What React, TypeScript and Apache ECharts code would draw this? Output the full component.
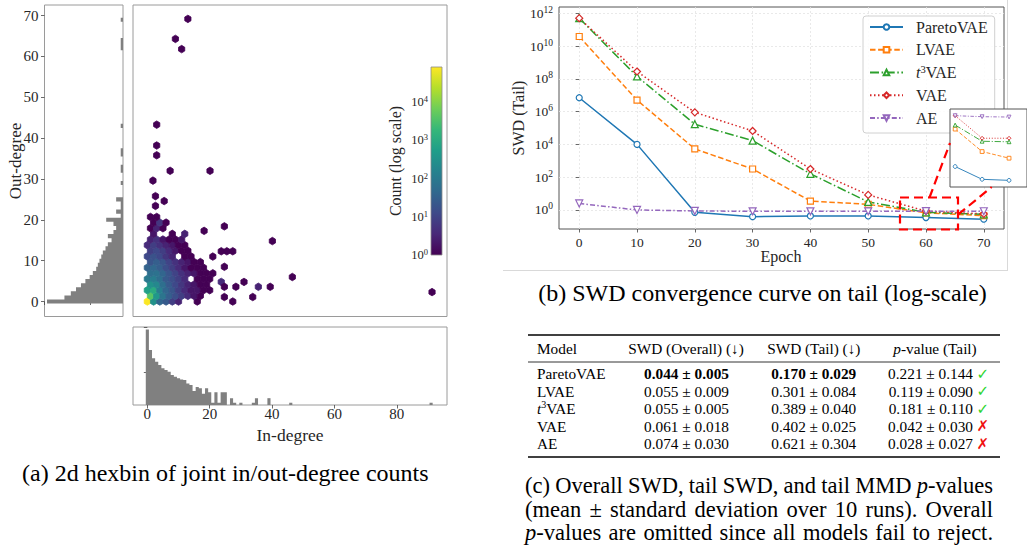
import React, { useEffect, useRef } from 'react';
import * as echarts from 'echarts';

const SERIF = '"Liberation Serif", "Times New Roman", serif';
const TXT = '#262626';

// ---------------- (a) joint in/out-degree hexbin ----------------
const HEX_DX = 2; // bin spacing along in-degree
const HEX_DY = 1.38; // row spacing along out-degree
// counts of each lattice row r (y = r*HEX_DY); even rows start at x=0, odd at x=1, step HEX_DX
const hexRows: number[][] = [
  [80000, 300, 40, 25, 8, 3, 0, 0, 1],
  [4000, 400, 80, 30, 15, 8, 4, 2, 1],
  [600, 1000, 120, 40, 20, 8, 4, 2, 2, 1, 1],
  [300, 200, 60, 25, 12, 6, 3, 2, 1, 1],
  [100, 120, 60, 25, 15, 8, 4, 0, 1, 1, 1],
  [60, 70, 40, 20, 10, 5, 3, 2, 1, 1, 1],
  [35, 45, 30, 15, 8, 4, 2, 1, 1, 1],
  [20, 30, 20, 10, 5, 3, 2, 1, 1],
  [12, 18, 12, 6, 3, 0, 1, 1],
  [8, 12, 8, 4, 2, 1, 1],
  [4, 8, 5, 3, 2, 1, 1],
  [3, 5, 2, 1, 1, 2],
  [0, 2, 0, 0, 1, 0, 3],
  [1, 3, 1],
  [0, 1, 6, 1],
  [1, 1],
];
// isolated bins: [in-degree, out-degree, count]
const hexSparse: number[][] = [
  [13, 69.2, 1], [9, 64.3, 1], [11, 61.8, 1], [3, 43.3, 1], [3, 38.2, 1], [3, 35.8, 1],
  [7.3, 32, 1], [20.1, 32, 1], [1.8, 29.6, 1], [2.6, 25.8, 1], [5.4, 24.6, 1], [2.6, 23.4, 1],
  [18.2, 17.3, 1], [24.7, 18.4, 1], [40.1, 14.8, 1], [23.7, 12.3, 1], [25.5, 12.3, 1], [27.4, 12.3, 1],
  [21, 11, 1], [24.7, 8.5, 1], [23.7, 4.8, 4], [24.7, 3.6, 1], [28.4, 3.6, 1], [31, 4.8, 1],
  [35.6, 3.6, 3], [39.4, 3.6, 1], [46.5, 6.0, 1], [24.7, 1.1, 1], [33.8, 1.1, 1], [27.4, 0, 1],
  [91.3, 2.3, 1],
];
const outDegree = [0, 1, 2, 3, 4, 5, 6, 7, 8, 9, 10, 11, 12, 13, 14, 15, 16, 17, 18, 19, 20, 21, 22, 23, 24, 25, 29, 32, 33, 36, 37, 43, 62, 63, 64, 69];
const outCount = [70000, 5000, 1900, 870, 410, 210, 110, 68, 41, 32, 25, 19, 15, 10, 7, 4, 7, 3, 2, 3, 9, 1, 2, 1, 1, 2, 1, 1, 1, 1, 1, 1, 1, 1, 1, 1];
const inDegree = [0, 1, 2, 3, 4, 5, 6, 7, 8, 9, 10, 11, 12, 13, 14, 15, 16, 17, 18, 19, 20, 21, 22, 23, 24, 25, 27, 28, 30, 34, 35, 39, 46, 91];
const inCount = [70000, 3100, 870, 510, 310, 190, 145, 110, 68, 52, 41, 35, 32, 19, 15, 6, 11, 9, 4, 9, 5, 1, 5, 1, 5, 5, 2, 1, 1, 1, 2, 2, 1, 1];
const degreeTicks = [0, 10, 20, 30, 40, 50, 60, 70];
const inDegreeTicks = [0, 20, 40, 60, 80];
const histTicks = [100, 100000];
const colorbarExps = [0, 1, 2, 3, 4];
const HMIN = 0.708;
const HMAX = 102000;
const CB_MAX_EXP = 4.92;

// ---------------- (b) SWD convergence ----------------
const epochs = [0, 10, 20, 30, 40, 50, 60, 70];
const paretoVAE = [7e6, 1e4, 0.72, 0.39, 0.43, 0.43, 0.345, 0.275];
const lvae = [3.8e10, 5e6, 5300, 316, 3.5, 2.2, 0.67, 0.45];
const t3vae = [5e11, 1.4e8, 1.7e5, 1.7e4, 160, 3.1, 0.72, 0.54];
const vae = [5e11, 2.8e8, 9e5, 6.6e4, 316, 8.3, 0.85, 0.57];
const ae = [2.5, 1.0, 0.87, 0.83, 0.83, 0.83, 0.85, 0.835];
const insetEpochs = [60, 70, 80];
const tail80 = [0.27, 0.4, 0.535, 0.57, 0.83];
const swdTicks = [1, 1e2, 1e4, 1e6, 1e8, 1e10, 1e12];

// ---------------- (c) table ----------------
const tableModels = ['ParetoVAE', 'LVAE', 't3VAE', 'VAE', 'AE'];
const swdOverallMean = [0.044, 0.055, 0.055, 0.061, 0.074];
const swdOverallStd = [0.005, 0.009, 0.005, 0.018, 0.03];
const swdTailMean = [0.17, 0.301, 0.389, 0.402, 0.621];
const swdTailStd = [0.029, 0.084, 0.04, 0.025, 0.304];
const pMean = [0.221, 0.119, 0.181, 0.042, 0.028];
const pStd = [0.144, 0.09, 0.11, 0.03, 0.027];

const viridis = ['#440154', '#482878', '#3e4989', '#31688e', '#26828e', '#1f9e89', '#35b779', '#6ece58', '#b5de2b', '#fde725'];

const models = [
  { name: 'ParetoVAE', data: paretoVAE, color: '#1f77b4', symbol: 'circle', size: 6, rotate: 0, dash: 'solid' as any },
  { name: 'LVAE', data: lvae, color: '#ff7f0e', symbol: 'rect', size: 6, rotate: 0, dash: [5.5, 2.6] },
  { name: 't3VAE', data: t3vae, color: '#2ca02c', symbol: 'triangle', size: 7, rotate: 0, dash: [9, 2.6, 1.5, 2.6] },
  { name: 'VAE', data: vae, color: '#d62728', symbol: 'diamond', size: 7, rotate: 0, dash: [1.5, 2.5] },
  { name: 'AE', data: ae, color: '#9467bd', symbol: 'triangle', size: 7, rotate: 180, dash: [5, 2.2, 1.5, 2.2] },
];

function fmt(v: number) {
  return v.toFixed(3);
}

function txt(text: string, x: number, y: number, size: number, o: any = {}) {
  return {
    type: 'text',
    x,
    y,
    z: o.z ?? 10,
    rotation: o.rot || 0,
    style: {
      text,
      fontSize: size,
      fontFamily: o.family || SERIF,
      fill: o.fill || TXT,
      fontWeight: o.weight || 'normal',
      fontStyle: o.fstyle || 'normal',
      textAlign: o.align || 'left',
      textVerticalAlign: 'middle',
      lineHeight: o.lh,
      rich: o.rich,
    },
  };
}

function justify(words: string[], x0: number, x1: number, y: number, size: number, rich: any) {
  const ctx = document.createElement('canvas').getContext('2d')!;
  ctx.font = `${size}px "Liberation Serif"`;
  const plain = words.map((w) => w.replace(/\{\w+\|([^}]*)\}/g, '$1'));
  const widths = plain.map((w) => ctx.measureText(w).width);
  const total = widths.reduce((a, b) => a + b, 0);
  const gap = words.length > 1 ? (x1 - x0 - total) / (words.length - 1) : 0;
  let x = x0;
  return words.map((w, i) => {
    const el = txt(w, x, y, size, { rich });
    x += widths[i] + gap;
    return el;
  });
}

// Draws one seamless step polygon for each run of consecutive histogram bins.
function histRun(bins: number[], counts: number[], i: number, api: any, horizontal: boolean) {
  if (i > 0 && bins[i] - bins[i - 1] === 1) return null;
  let j = i;
  while (j + 1 < bins.length && bins[j + 1] - bins[j] === 1) j++;
  const P = (b: number, v: number) => (horizontal ? api.coord([v, b]) : api.coord([b, v]));
  const pts: number[][] = [P(bins[i] - 0.5, HMIN)];
  for (let k = i; k <= j; k++) {
    pts.push(P(bins[k] - 0.5, counts[k]));
    pts.push(P(bins[k] + 0.5, counts[k]));
  }
  pts.push(P(bins[j] + 0.5, HMIN));
  return { type: 'polygon', shape: { points: pts }, style: { fill: '#808080' } };
}

function buildOption(): any {
  const hexData: number[][] = [];
  hexRows.forEach((row, r) => {
    row.forEach((c, k) => {
      if (c > 0) {
        const x = (r % 2) * (HEX_DX / 2) + k * HEX_DX;
        hexData.push([x, r * HEX_DY, c, Math.log10(c)]);
      }
    });
  });
  hexSparse.forEach(([x, y, c]) => hexData.push([x, y, c, Math.log10(c)]));

  const tick = { length: 3.5, lineStyle: { color: '#444', width: 0.8 } };
  const lbl = { fontFamily: SERIF, color: TXT };
  const frameA = '#9a9a9a';
  const supRich = (fs: number) => ({ s: { fontSize: fs, fontFamily: SERIF, color: TXT, lineHeight: fs, verticalAlign: 'top' } });

  const lineSeries: any[] = [];
  models.forEach((m) => {
    lineSeries.push({
      type: 'line',
      name: m.name,
      xAxisIndex: 3,
      yAxisIndex: 3,
      data: epochs.map((e, i) => [e, m.data[i]]),
      symbol: m.symbol,
      symbolSize: m.size,
      symbolRotate: m.rotate,
      showAllSymbol: true,
      lineStyle: { color: m.color, width: 1.5, type: m.dash },
      itemStyle: { color: '#ffffff', borderColor: m.color, borderWidth: 1.2 },
      z: 3,
    });
  });
  models.forEach((m, mi) => {
    const vals = [m.data[6], m.data[7], tail80[mi]];
    lineSeries.push({
      type: 'line',
      name: m.name,
      xAxisIndex: 4,
      yAxisIndex: 4,
      data: insetEpochs.map((e, i) => [e, vals[i]]),
      symbol: m.symbol,
      symbolSize: 3.8,
      symbolRotate: m.rotate,
      lineStyle: { color: m.color, width: 0.9, type: Array.isArray(m.dash) ? m.dash.map((d: number) => d * 0.7) : m.dash },
      itemStyle: { color: '#ffffff', borderColor: m.color, borderWidth: 0.9 },
      z: 7,
    });
  });

  const graphics: any[] = [];
  // colorbar
  graphics.push({
    type: 'rect',
    z: 10,
    shape: { x: 431, y: 67, width: 11, height: 188 },
    style: {
      fill: new echarts.graphic.LinearGradient(0, 1, 0, 0, viridis.map((c, i) => ({ offset: i / (viridis.length - 1), color: c }))),
      stroke: '#8a8a8a',
      lineWidth: 0.8,
    },
  });
  colorbarExps.forEach((k) => {
    graphics.push(txt(`10{s|${k}}`, 428, 255 - (k / CB_MAX_EXP) * 188, 12.5, { align: 'right', lh: 15, rich: supRich(8.5) }));
  });
  graphics.push(txt('Count (log scale)', 395, 161, 16, { align: 'center', rot: Math.PI / 2 }));
  graphics.push(txt('Out-degree', 15.5, 161, 17, { align: 'center', rot: Math.PI / 2 }));
  graphics.push(txt('In-degree', 290, 435, 17.5, { align: 'center' }));
  // panel b titles
  graphics.push(txt('SWD (Tail)', 518, 118, 16, { align: 'center', rot: Math.PI / 2 }));
  graphics.push(txt('Epoch', 781, 256, 16, { align: 'center' }));
  // panel b image border
  graphics.push({ type: 'line', z: 1, shape: { x1: 503, y1: 270.5, x2: 1008, y2: 270.5 }, style: { stroke: '#d9d9d9', lineWidth: 1 } });
  graphics.push({ type: 'line', z: 1, shape: { x1: 1007.5, y1: 0, x2: 1007.5, y2: 270.5 }, style: { stroke: '#d9d9d9', lineWidth: 1 } });
  // zoom indicator
  const red = { stroke: '#ff0000', lineWidth: 2.2, lineDash: [9, 5], fill: null };
  graphics.push({ type: 'rect', z: 10, shape: { x: 900, y: 197.5, width: 58, height: 32 }, style: red });
  graphics.push({ type: 'line', z: 10, shape: { x1: 929.5, y1: 197.5, x2: 950, y2: 143 }, style: red });
  graphics.push({ type: 'line', z: 10, shape: { x1: 958, y1: 214.6, x2: 991.7, y2: 187 }, style: red });

  // table
  const TF = 15.3;
  const tRich = {
    i: { fontStyle: 'italic', fontSize: TF, fontFamily: SERIF, lineHeight: 18 },
    s: { fontSize: 10, fontFamily: SERIF, lineHeight: 10, verticalAlign: 'top' },
  };
  graphics.push({ type: 'line', z: 10, shape: { x1: 528, y1: 335, x2: 1000, y2: 335 }, style: { stroke: '#000', lineWidth: 1.3 } });
  graphics.push({ type: 'line', z: 10, shape: { x1: 528, y1: 362, x2: 1000, y2: 362 }, style: { stroke: '#000', lineWidth: 0.8 } });
  graphics.push({ type: 'line', z: 10, shape: { x1: 528, y1: 457, x2: 1000, y2: 457 }, style: { stroke: '#000', lineWidth: 1.3 } });
  graphics.push(txt('Model', 537, 348, TF, { fill: '#000', lh: 18 }));
  graphics.push(txt('SWD (Overall) (↓)', 686, 348, TF, { fill: '#000', align: 'center', lh: 18 }));
  graphics.push(txt('SWD (Tail) (↓)', 813.8, 348, TF, { fill: '#000', align: 'center', lh: 18 }));
  graphics.push(txt('{i|p}-value (Tail)', 935, 348, TF, { fill: '#000', align: 'center', lh: 18, rich: tRich }));
  tableModels.forEach((m, i) => {
    const y = 373.5 + i * 17.6;
    const label = m === 't3VAE' ? '{i|t}{s|3}VAE' : m;
    const best = i === 0;
    graphics.push(txt(label, 537, y, TF, { fill: '#000', lh: 18, rich: tRich }));
    graphics.push(txt(`${fmt(swdOverallMean[i])} ± ${fmt(swdOverallStd[i])}`, 686.5, y, TF, { fill: '#000', align: 'center', weight: best ? 'bold' : 'normal' }));
    graphics.push(txt(`${fmt(swdTailMean[i])} ± ${fmt(swdTailStd[i])}`, 813.8, y, TF, { fill: '#000', align: 'center', weight: best ? 'bold' : 'normal' }));
    graphics.push(txt(`${fmt(pMean[i])} ± ${fmt(pStd[i])}`, 973, y, TF, { fill: '#000', align: 'right' }));
    const pass = pMean[i] > 0.05;
    graphics.push(txt(pass ? '✓' : '✗', 976.5, y, 15, { fill: pass ? '#2bd42b' : '#f01010', family: '"DejaVu Sans"', weight: 'bold' }));
  });

  // captions
  graphics.push(txt('(a) 2d hexbin of joint in/out-degree counts', 22, 473, 24, { fill: '#000' }));
  graphics.push(txt('(b) SWD convergence curve on tail (log-scale)', 762.5, 293, 24, { fill: '#000', align: 'center' }));
  const cRich = { i: { fontStyle: 'italic', fontSize: 22.5, fontFamily: SERIF } };
  const capLines = [
    ['(c)', 'Overall', 'SWD,', 'tail', 'SWD,', 'and', 'tail', 'MMD', '{i|p}-values'],
    ['(mean', '±', 'standard', 'deviation', 'over', '10', 'runs).', 'Overall'],
    ['{i|p}-values', 'are', 'omitted', 'since', 'all', 'models', 'fail', 'to', 'reject.'],
  ];
  capLines.forEach((ws, i) => {
    justify(ws, 525, 993, 485.5 + i * 23.6, 22.5, cRich).forEach((el: any) => {
      el.style.fill = '#000';
      graphics.push(el);
    });
  });

  return {
    animation: false,
    backgroundColor: '#ffffff',
    textStyle: { fontFamily: SERIF },
    grid: [
      { left: 44.5, top: 5, width: 78.5, height: 311.5, show: true, borderColor: frameA, borderWidth: 1 },
      { left: 133, top: 5, width: 314, height: 311.5, show: true, borderColor: frameA, borderWidth: 1 },
      { left: 133, top: 327, width: 314, height: 78, show: true, borderColor: frameA, borderWidth: 1 },
      { left: 559, top: 7, width: 445, height: 222, show: true, borderColor: '#555', borderWidth: 1 },
      { left: 950, top: 109, width: 100, height: 78, show: true, borderColor: '#555', borderWidth: 1, backgroundColor: '#ffffff', z: 5 },
    ],
    visualMap: {
      type: 'continuous',
      show: false,
      seriesIndex: 0,
      dimension: 3,
      min: 0,
      max: CB_MAX_EXP,
      inRange: { color: viridis },
    },
    xAxis: [
      {
        gridIndex: 0, type: 'log', logBase: 10, min: HMIN, max: HMAX, inverse: true,
        axisLine: { show: false }, axisLabel: { show: false }, splitLine: { show: false },
        axisTick: { show: true, customValues: histTicks, ...tick },
      },
      { gridIndex: 1, type: 'value', min: -4.6, max: 96.1, show: false },
      {
        gridIndex: 2, type: 'value', min: -4.6, max: 96.1,
        axisLine: { show: false }, splitLine: { show: false },
        axisTick: { show: true, customValues: inDegreeTicks, ...tick },
        axisLabel: { customValues: inDegreeTicks, fontSize: 15, margin: 3, lineHeight: 12, ...lbl },
      },
      {
        gridIndex: 3, type: 'value', min: -3.5, max: 73.5,
        axisLine: { show: false },
        axisTick: { show: true, customValues: epochs, ...tick },
        axisLabel: { customValues: epochs, fontSize: 13.5, margin: 6, ...lbl },
        splitLine: { show: true, lineStyle: { color: '#e3e3e3', width: 0.8, type: [2, 2] } },
      },
      { gridIndex: 4, type: 'value', min: 58.09, max: 86.66, show: false },
    ],
    yAxis: [
      {
        gridIndex: 0, type: 'value', min: -3.67, max: 72.6,
        axisLine: { show: false }, splitLine: { show: false },
        axisTick: { show: true, customValues: degreeTicks, ...tick },
        axisLabel: { customValues: degreeTicks, fontSize: 15, margin: 6, ...lbl },
      },
      { gridIndex: 1, type: 'value', min: -3.67, max: 72.6, show: false },
      {
        gridIndex: 2, type: 'log', logBase: 10, min: HMIN, max: HMAX,
        axisLine: { show: false }, axisLabel: { show: false }, splitLine: { show: false },
        axisTick: { show: true, customValues: histTicks, ...tick },
      },
      {
        gridIndex: 3, type: 'log', logBase: 10, min: 0.069, max: 2.4e12,
        axisLine: { show: false },
        axisTick: { show: true, customValues: swdTicks, ...tick },
        axisLabel: {
          customValues: swdTicks, fontSize: 13.5, margin: 6, lineHeight: 17, ...lbl,
          formatter: (v: number) => `10{s|${Math.round(Math.log10(v))}}`,
          rich: supRich(9.5),
        },
        splitLine: { show: true, lineStyle: { color: '#e3e3e3', width: 0.8, type: [2, 2] } },
      },
      { gridIndex: 4, type: 'log', logBase: 10, min: 0.24, max: 0.957, show: false },
    ],
    legend: {
      data: models.map((m) => m.name),
      orient: 'vertical',
      left: 863,
      top: 16,
      padding: [2, 7, 6, 6],
      itemWidth: 33,
      itemHeight: 7,
      itemGap: 4.75,
      backgroundColor: 'rgba(255,255,255,0.85)',
      borderColor: '#d0d0d0',
      borderWidth: 1,
      borderRadius: 3,
      z: 4,
      textStyle: {
        fontFamily: SERIF, fontSize: 16, color: TXT, lineHeight: 18, padding: [0, 0, 0, 8],
        rich: {
          i: { fontStyle: 'italic', fontFamily: SERIF, fontSize: 16, color: TXT, lineHeight: 18 },
          s: { fontFamily: SERIF, fontSize: 10.5, color: TXT, lineHeight: 10, verticalAlign: 'top' },
        },
      },
      formatter: (n: string) => (n === 't3VAE' ? '{i|t}{s|3}VAE' : n),
    },
    series: [
      {
        type: 'custom',
        xAxisIndex: 1,
        yAxisIndex: 1,
        clip: true,
        data: hexData,
        renderItem: (params: any, api: any) => {
          const c = api.coord([api.value(0), api.value(1)]);
          const s = api.size([HEX_DX, 2 * HEX_DY]);
          const w = s[0];
          const h = (s[1] * 2) / 3;
          const col = api.visual('color');
          return {
            type: 'polygon',
            shape: {
              points: [
                [c[0] + w / 2, c[1] - h / 4],
                [c[0] + w / 2, c[1] + h / 4],
                [c[0], c[1] + h / 2],
                [c[0] - w / 2, c[1] + h / 4],
                [c[0] - w / 2, c[1] - h / 4],
                [c[0], c[1] - h / 2],
              ],
            },
            style: { fill: col, stroke: col, lineWidth: 0.8 },
          };
        },
      },
      {
        type: 'custom',
        xAxisIndex: 0,
        yAxisIndex: 0,
        clip: true,
        data: outDegree.map((d, i) => [outCount[i], d]),
        renderItem: (params: any, api: any) => histRun(outDegree, outCount, params.dataIndex, api, true),
      },
      {
        type: 'custom',
        xAxisIndex: 2,
        yAxisIndex: 2,
        clip: true,
        data: inDegree.map((d, i) => [d, inCount[i]]),
        renderItem: (params: any, api: any) => histRun(inDegree, inCount, params.dataIndex, api, false),
      },
      ...lineSeries,
    ],
    graphic: { elements: graphics },
  };
}

export default function App() {
  const ref = useRef<HTMLDivElement>(null);
  useEffect(() => {
    document.body.style.margin = '0';
    const chart = echarts.init(ref.current!, null, { renderer: 'svg' });
    chart.setOption(buildOption());
    return () => chart.dispose();
  }, []);
  return <div ref={ref} style={{ width: 1027, height: 550, overflow: 'hidden' }} />;
}
